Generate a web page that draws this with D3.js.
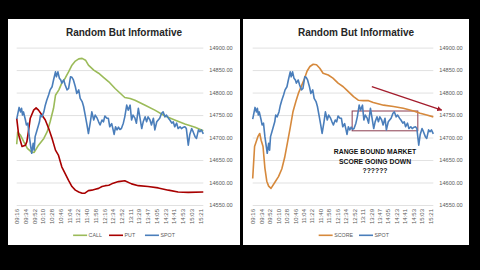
<!DOCTYPE html>
<html>
<head>
<meta charset="utf-8">
<script src="https://cdn.jsdelivr.net/npm/d3@7"></script>
<style>
  html, body { margin: 0; padding: 0; background: #000; }
  svg { display: block; font-family: "Liberation Sans", Arial, sans-serif; }
</style>
</head>
<body>
<div id="chart"></div>
<script>
"use strict";

/*
 * ============================================================================
 * Data (category index, value)
 * ============================================================================
 */

const timeLabels = ["09:16", "09:34", "09:52", "10:10", "10:28", "10:46", "11:04",
    "11:22", "11:40", "11:58", "12:16", "12:34", "12:52", "13:11", "13:29", "13:47",
    "14:05", "14:23", "14:41", "14:53", "15:03", "15:21"];
const labelIndex = [0, 18, 36, 54, 72, 90, 108, 126, 144, 162, 180, 198, 216, 234,
    252, 270, 288, 306, 324, 342, 360, 378];
const lastIndex = 385;

const yTicks = [14550, 14600, 14650, 14700, 14750, 14800, 14850, 14900];

const spot = [[0,14741],[5,14767],[8,14757],[10,14765],[12,14750],[14,14757],[18,14739],
    [20,14728],[23,14732],[26,14702],[29,14680],[31,14665],[34,14687],[36,14672],[38,14702],
    [41,14713],[44,14724],[47,14735],[49,14750],[52,14746],[56,14757],[59,14772],[62,14783],
    [66,14795],[69,14806],[73,14813],[76,14828],[80,14846],[82,14835],[85,14846],[88,14832],
    [91,14828],[93,14821],[97,14828],[100,14817],[104,14806],[107,14809],[111,14835],
    [114,14834],[117,14828],[121,14813],[124,14798],[128,14806],[131,14787],[135,14780],
    [138,14769],[142,14746],[145,14728],[148,14709],[152,14735],[155,14757],[159,14739],
    [162,14750],[166,14743],[169,14735],[172,14728],[176,14739],[179,14735],[182,14748],
    [186,14743],[189,14743],[192,14724],[196,14731],[199,14717],[201,14707],[204,14724],
    [207,14717],[210,14723],[213,14718],[216,14720],[220,14732],[223,14746],[227,14772],
    [230,14761],[234,14772],[237,14739],[240,14750],[244,14743],[247,14732],[251,14765],
    [254,14746],[258,14720],[261,14735],[265,14746],[268,14735],[271,14746],[275,14739],
    [278,14728],[282,14743],[285,14717],[289,14735],[292,14739],[295,14743],[299,14754],
    [302,14757],[306,14746],[309,14750],[313,14743],[316,14739],[320,14732],[323,14735],
    [326,14724],[330,14732],[333,14720],[337,14724],[340,14720],[344,14723],[347,14724],
    [350,14720],[354,14683],[357,14706],[361,14720],[364,14713],[368,14702],[371,14698],
    [375,14717],[378,14713],[381,14717],[385,14708]];

const call = [[0,14685],[2,14712],[8,14705],[15,14690],[22,14676],[30,14668],[36,14667],
    [45,14683],[56,14698],[63,14713],[69,14735],[76,14765],[80,14794],[87,14806],[93,14821],
    [100,14832],[107,14846],[114,14861],[121,14870],[128,14875],[135,14876],[142,14872],
    [148,14861],[159,14850],[169,14843],[179,14834],[190,14824],[203,14809],[223,14789],
    [234,14787],[244,14783],[265,14772],[285,14761],[306,14748],[326,14739],[347,14730],
    [368,14723],[385,14715]];

const put = [[0,14743],[4,14706],[11,14680],[18,14683],[21,14691],[25,14720],[28,14743],
    [35,14761],[40,14766],[45,14761],[52,14750],[59,14739],[66,14720],[73,14698],[80,14672],
    [86,14661],[93,14635],[100,14620],[107,14605],[114,14591],[121,14583],[128,14579],
    [135,14576],[140,14576],[148,14582],[155,14583],[162,14585],[169,14587],[176,14591],
    [183,14593],[190,14594],[196,14597],[210,14602],[223,14604],[237,14597],[251,14593],
    [271,14591],[292,14588],[313,14583],[333,14579],[354,14578],[385,14579]];

const score = [[0,14609],[4,14680],[11,14702],[15,14709],[18,14694],[22,14680],[26,14632],
    [30,14603],[34,14592],[39,14587],[47,14600],[55,14613],[62,14630],[68,14655],[74,14688],
    [80,14722],[86,14758],[92,14780],[98,14800],[104,14815],[110,14830],[116,14848],
    [122,14858],[129,14863],[136,14862],[143,14854],[150,14843],[161,14839],[171,14832],
    [182,14821],[193,14813],[200,14806],[215,14791],[225,14783],[236,14782],[247,14782],
    [257,14778],[279,14772],[300,14769],[321,14765],[343,14759],[357,14754],[371,14750],
    [385,14746]];

// annotation on the right chart: the range box and the trend arrow
const rangeBox = { from: 212, to: 352, low: 14715, high: 14759 };
const trendArrow = [[254, 14813], [403, 14761]];
const noteLines = ["RANGE BOUND MARKET", "SCORE GOING DOWN", "??????"];

const COLORS = {
    CALL: "#9bbb59",
    PUT: "#a80000",
    SPOT: "#4a7ebb",
    SCORE: "#d6893c",
};


/*
 * ============================================================================
 * Panel
 * ============================================================================
 */

const TOP = 47.6;
const BOTTOM = 205;

function drawPanel(svg, p) {
    const g = svg.append("g");

    g.append("rect")
        .attr("x", p.x0).attr("y", 19)
        .attr("width", p.x1 - p.x0).attr("height", 226)
        .attr("fill", "#fff");

    const x = d3.scaleLinear().domain([0, lastIndex]).range([p.left, p.right]);
    const y = d3.scaleLinear().domain([14550, 14900]).range([BOTTOM, TOP]);

    // gridlines
    g.append("g")
        .attr("transform", `translate(${p.left},0)`)
        .call(d3.axisLeft(y).tickValues(yTicks).tickSize(-(p.right - p.left)).tickFormat(""))
        .call(a => a.select(".domain").remove())
        .call(a => a.selectAll("line").attr("stroke", "#d9d9d9").attr("stroke-width", 0.8));

    // value labels on the right
    g.append("g")
        .attr("transform", `translate(${p.right},0)`)
        .call(d3.axisRight(y).tickValues(yTicks).tickSize(0).tickPadding(6).tickFormat(d3.format(".2f")))
        .call(a => a.select(".domain").remove())
        .call(a => a.selectAll("text")
            .attr("font-family", "Liberation Sans, Arial, sans-serif")
            .attr("font-size", 5.6).attr("fill", "#595959"));

    // time labels
    g.append("g")
        .attr("transform", `translate(0,${BOTTOM})`)
        .call(d3.axisBottom(x).tickValues(labelIndex).tickSize(0)
            .tickFormat((d, i) => timeLabels[i]))
        .call(a => a.select(".domain").remove())
        .call(a => a.selectAll("text")
            .attr("font-family", "Liberation Sans, Arial, sans-serif")
            .attr("font-size", 6).attr("fill", "#595959")
            .attr("transform", "rotate(-90)")
            .attr("text-anchor", "end")
            .attr("x", -4).attr("y", 0).attr("dy", "0.35em"));

    // title
    g.append("text")
        .attr("x", (p.x0 + p.x1) / 2).attr("y", 36)
        .attr("text-anchor", "middle")
        .attr("font-size", 10).attr("font-weight", "bold").attr("fill", "#262626")
        .text("Random But Informative");

    const line = d3.line().x(d => x(d[0])).y(d => y(d[1]));

    if (p.extra) p.extra(g, x, y);

    p.series.forEach(s => {
        g.append("path")
            .datum(s.data)
            .attr("fill", "none")
            .attr("stroke", COLORS[s.name])
            .attr("stroke-width", 1.6)
            .attr("stroke-linejoin", "round")
            .attr("d", line);
    });

    // legend
    const leg = g.append("g").attr("transform", "translate(0,235.3)");
    const items = leg.selectAll("g").data(p.series).join("g");
    items.append("line")
        .attr("x1", 0).attr("x2", 14)
        .attr("stroke", d => COLORS[d.name]).attr("stroke-width", 1.6);
    items.append("text")
        .attr("x", 15.5).attr("dy", "0.35em")
        .attr("font-size", 5.3).attr("fill", "#595959")
        .text(d => d.name);
    let widest = 0;
    items.selectAll("text").each(function() {
        widest = Math.max(widest, this.getComputedTextLength());
    });
    const slot = 15.5 + widest + 6;
    const total = slot * (p.series.length - 1) + 15.5 + widest;
    const start = (p.x0 + p.x1) / 2 - total / 2;
    items.attr("transform", (d, i) => `translate(${start + i * slot},0)`);
}


/*
 * ============================================================================
 * Orchestration
 * ============================================================================
 */

const svg = d3.select("#chart")
  .append("svg")
    .attr("width", 480)
    .attr("height", 270);

svg.append("rect").attr("width", 480).attr("height", 270).attr("fill", "#000");

drawPanel(svg, {
    x0: 8, x1: 240, left: 16.7, right: 203.3,
    series: [
        { name: "CALL", data: call },
        { name: "PUT", data: put },
        { name: "SPOT", data: spot },
    ],
});

drawPanel(svg, {
    x0: 243, x1: 469, left: 252.7, right: 433.3,
    series: [
        { name: "SCORE", data: score },
        { name: "SPOT", data: spot },
    ],
    extra: function(g, x, y) {
        const arrowColor = "#a31c2c";
        g.append("defs").append("marker")
            .attr("id", "head")
            .attr("viewBox", "0 0 10 10")
            .attr("refX", 9).attr("refY", 5)
            .attr("markerWidth", 4).attr("markerHeight", 4)
            .attr("orient", "auto")
          .append("path")
            .attr("d", "M0,0L10,5L0,10Z")
            .attr("fill", arrowColor);

        g.append("line")
            .attr("x1", x(trendArrow[0][0])).attr("y1", y(trendArrow[0][1]))
            .attr("x2", x(trendArrow[1][0])).attr("y2", y(trendArrow[1][1]))
            .attr("stroke", arrowColor).attr("stroke-width", 1.3)
            .attr("marker-end", "url(#head)");

        g.append("rect")
            .attr("x", x(rangeBox.from)).attr("y", y(rangeBox.high))
            .attr("width", x(rangeBox.to) - x(rangeBox.from))
            .attr("height", y(rangeBox.low) - y(rangeBox.high))
            .attr("fill", "none").attr("stroke", "#8b3c4f").attr("stroke-width", 1);

        g.append("g").selectAll("text")
            .data(noteLines)
            .join("text")
            .attr("x", 375)
            .attr("y", (d, i) => [154.3, 164.3, 173.3][i])
            .attr("text-anchor", "middle")
            .attr("font-size", 6.8).attr("font-weight", "bold").attr("fill", "#111")
            .text(d => d);
    },
});
</script>
</body>
</html>
